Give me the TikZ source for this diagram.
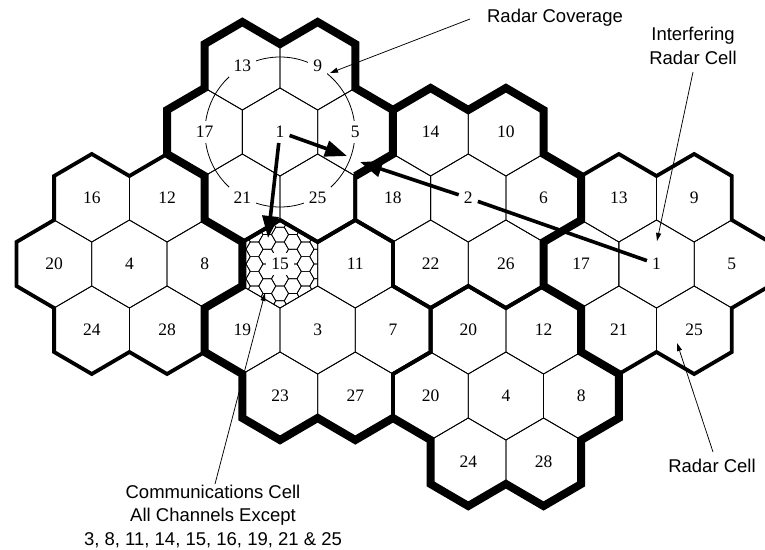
\documentclass[tikz,border=0pt]{standalone}
\usepackage{fontspec}
\setmainfont{Liberation Serif}
\newfontfamily\annfont{Liberation Sans}
\usetikzlibrary{arrows.meta}
\begin{document}
\begin{tikzpicture}[x=1pt,y=-1pt,
  thinline/.style={line width=0.8pt},
  medline/.style={line width=3.8pt, line join=miter},
  heavyline/.style={line width=8pt, line join=miter},
  microline/.style={line width=0.7pt},
  cell/.style={fill=white, inner sep=5pt, font=\fontsize{17.5}{18}\selectfont},
  ann/.style={font=\annfont\fontsize{18.5}{23.5}\selectfont, align=center, inner sep=0pt},
  bigarrow/.style={line width=3.6pt, -{Triangle[length=22pt,width=16pt]}},
  ptr/.style={line width=0.75pt, -{Triangle[length=8pt,width=5pt]}},
]
\fill[white] (0,0) rectangle (765,549);
\useasboundingbox (0,0) rectangle (765,549);

\def\celllist{a13/-1/-3/13, a9/1/-3/9, a17/-2/0/17, a1/0/0/1, a5/2/0/5, a21/-1/3/21, a25/1/3/25,
 b16/-5/3/16, b12/-3/3/12, b20/-6/6/20, b4/-4/6/4, b8/-2/6/8, b24/-5/9/24, b28/-3/9/28,
 c15/0/6/15, c11/2/6/11, c19/-1/9/19, c3/1/9/3, c7/3/9/7, c23/0/12/23, c27/2/12/27,
 d14/4/0/14, d10/6/0/10, d18/3/3/18, d2/5/3/2, d6/7/3/6, d22/4/6/22, d26/6/6/26,
 e13/9/3/13, e9/11/3/9, e17/8/6/17, e1/10/6/1, e5/12/6/5, e21/9/9/21, e25/11/9/25,
 f20/5/9/20, f12/7/9/12, f20b/4/12/20, f4/6/12/4, f8/8/12/8, f24/5/15/24, f28/7/15/28}

\begin{scope}[shift={(280,132)}, x=37.65pt, y=-22pt]
  % thin cell outlines
  \foreach \n/\u/\v/\t in \celllist {
    \draw[thinline, shift={(\u,\v)}] (0,-2) -- (1,-1) -- (1,1) -- (0,2) -- (-1,1) -- (-1,-1) -- cycle;
  }
  % micro cells in cell 15
  \begin{scope}
    \clip (0,4) -- (1,5) -- (1,7) -- (0,8) -- (-1,7) -- (-1,5) -- cycle;
    \begin{scope}[shift={(0,6)}, x=1pt, y=-1pt]
      \foreach \k in {-4,...,4} {
        \foreach \j in {-4,...,4} {
          \pgfmathsetmacro\cx{12.75*\k}
          \pgfmathsetmacro\cy{14.722*\j + 7.361*mod(abs(\k),2)}
          \draw[microline] (\cx,\cy) +(0:8.5) -- +(60:8.5) -- +(120:8.5) -- +(180:8.5) -- +(240:8.5) -- +(300:8.5) -- cycle;
        }
      }
    \end{scope}
  \end{scope}
  % cluster outlines
  \foreach \p in {(0,0),(-4,6),(1,9),(5,3),(10,6),(6,12)} {
    \draw[medline, shift={\p}] (-1,-5) -- (0,-4) -- (1,-5) -- (2,-4) -- (2,-2) -- (3,-1) -- (3,1) -- (2,2) -- (2,4) -- (1,5) -- (0,4) -- (-1,5) -- (-2,4) -- (-2,2) -- (-3,1) -- (-3,-1) -- (-2,-2) -- (-2,-4) -- cycle;
  }
  % heavy outline
  \draw[heavyline] (-1,-5) -- (0,-4) -- (1,-5) -- (2,-4) -- (2,-2) -- (3,-1) -- (4,-2) -- (5,-1) -- (6,-2) -- (7,-1) -- (7,1) -- (8,2) -- (8,4) -- (7,5) -- (7,7) -- (8,8) -- (8,10) -- (9,11) -- (9,13) -- (8,14) -- (8,16) -- (7,17) -- (6,16) -- (5,17) -- (4,16) -- (4,14) -- (3,13) -- (2,14) -- (1,13) -- (0,14) -- (-1,13) -- (-1,11) -- (-2,10) -- (-2,8) -- (-1,7) -- (-1,5) -- (-2,4) -- (-2,2) -- (-3,1) -- (-3,-1) -- (-2,-2) -- (-2,-4) -- cycle;
  \draw[heavyline] (3,-1) -- (3,1) -- (2,2);
  % radar coverage circle
  \draw[thinline] (0,0) circle[radius=75pt];
  % labels
  \foreach \n/\u/\v/\t in \celllist {
    \node[cell] (\n) at (\u,\v) {\t};
  }
\end{scope}

% thick arrows
\coordinate (tipA) at (347,156);
\coordinate (tipB) at (268,238);
\coordinate (tipC) at (360,162);
\draw[bigarrow] (a1) -- (tipA);
\draw[bigarrow] (a1) -- (tipB);
\draw[line width=3.6pt] (e1) -- (d2);
\draw[bigarrow] (d2) -- (tipC);

% annotations
\node[ann] (rc) at (555,18) {Radar Coverage};
\node[ann] (irc) at (693,46) {Interfering\\Radar Cell};
\node[ann] (rcell) at (712,466) {Radar Cell};
\node[ann] (comm) at (213,516) {Communications Cell\\All Channels Except\\3, 8, 11, 14, 15, 16, 19, 21 \& 25};

\coordinate (rcs) at (470,19);
\coordinate (rct) at (330,73);
\coordinate (ircs) at (693,72);
\coordinate (irct) at (657,241);
\coordinate (rcells) at (713,452);
\coordinate (rcellt) at (677,343);
\coordinate (comms) at (215,484);
\coordinate (commt) at (265,293);
\draw[ptr] (rcs) -- (rct);
\draw[ptr] (ircs) -- (irct);
\draw[ptr] (rcells) -- (rcellt);
\draw[ptr] (comms) -- (commt);
\end{tikzpicture}
\end{document}
